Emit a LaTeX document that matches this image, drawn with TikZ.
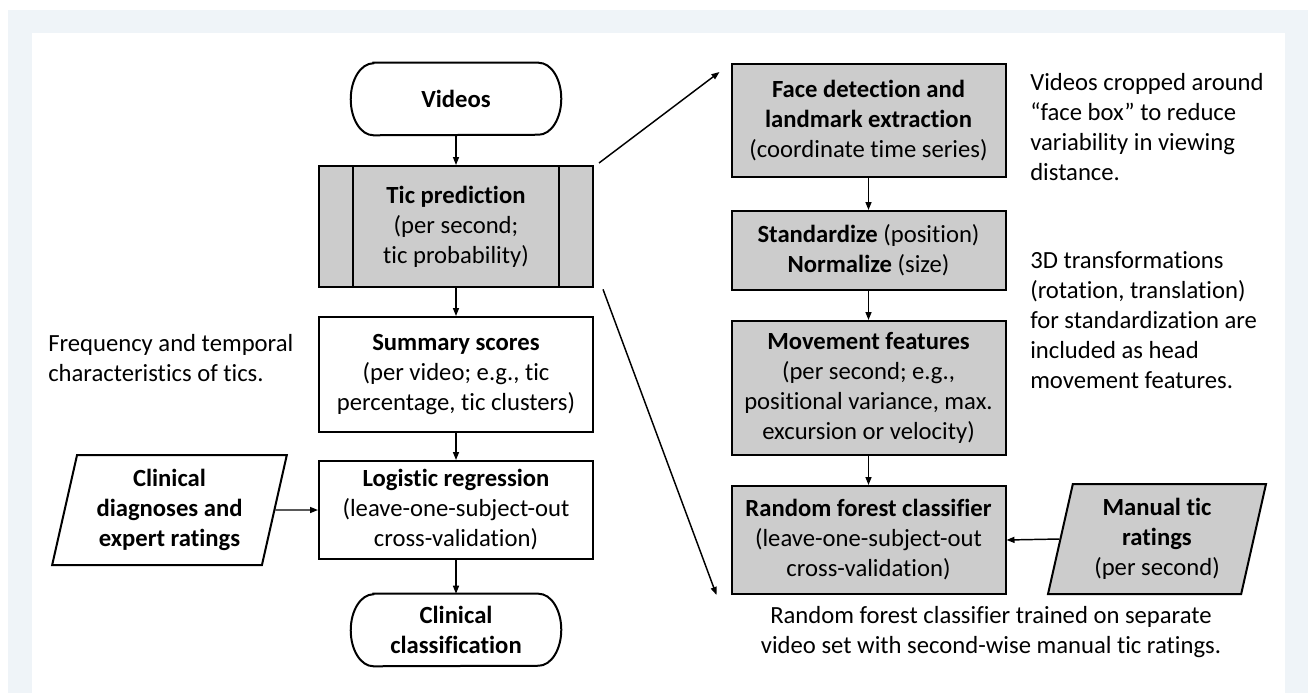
\documentclass[tikz,border=0pt]{standalone}
\usepackage{fontspec}
\setmainfont{Carlito}[Ligatures=NoCommon]
\usetikzlibrary{arrows.meta,calc,positioning,shapes.geometric}
\definecolor{framebg}{RGB}{239,244,248}
\definecolor{boxgray}{RGB}{204,204,204}

\tikzset{
  flowbox/.style={draw=black,line width=1.5pt,minimum width=205.5pt,align=center,inner sep=2pt},
  graybox/.style={flowbox,fill=boxgray},
  terminal/.style={align=center,inner sep=2pt,minimum width=157.5pt,minimum height=54pt},
  databox/.style={flowbox,trapezium,trapezium left angle=74,trapezium right angle=106,
    trapezium stretches body,minimum height=82.5pt},
  flowarrow/.style={-{Triangle[length=6pt,width=4.5pt]},line width=1.1pt},
  note/.style={align=left,inner sep=0pt}
}

\begin{document}
\begin{tikzpicture}[x=0.75pt,y=-0.75pt,font=\fontsize{18.5}{22.5}\selectfont]
  % cadre
  \useasboundingbox (0,0) rectangle (1312,693);
  \fill[framebg] (8,10) rectangle (1308,693);
  \fill[white] (32,33) rectangle (1285,693);
  % colonne gauche
  \node[terminal] (videos) at (456,99) {\textbf{Videos}};
  \node[graybox,minimum height=90.75pt] (tic) at (456,226.5)
    {\textbf{Tic prediction}\\(per second;\\tic probability)};
  \draw[line width=1.5pt] ([xshift=26pt]tic.north west) -- ([xshift=26pt]tic.south west);
  \draw[line width=1.5pt] ([xshift=-26pt]tic.north east) -- ([xshift=-26pt]tic.south east);
  \node[flowbox,minimum height=86.25pt] (summary) at (456,374.5)
    {\textbf{Summary scores}\\(per video; e.g., tic\\percentage, tic clusters)};
  \node[flowbox,minimum height=73.5pt] (logreg) at (456,510)
    {\textbf{Logistic regression}\\(leave-one-subject-out\\cross-validation)};
  \node[terminal] (clinclass) at (456,630) {\textbf{Clinical}\\\textbf{classification}};
  \node[databox,minimum width=176pt] (diagnoses) at (169.5,510)
    {\textbf{Clinical}\\\textbf{diagnoses and}\\\textbf{expert ratings}};
  % bords des terminaux
  \foreach \t in {videos,clinclass}
    \draw[line width=1.5pt] ([xshift=17pt]\t.north west) -- ([xshift=-17pt]\t.north east)
      arc[start angle=90,end angle=-90,x radius=17pt,y radius=27pt]
      -- ([xshift=17pt]\t.south west)
      arc[start angle=270,end angle=90,x radius=17pt,y radius=27pt] -- cycle;
  % colonne droite
  \node[graybox,minimum height=84.75pt] (face) at (868.5,120.5)
    {\textbf{Face detection and}\\\textbf{landmark extraction}\\(coordinate time series)};
  \node[graybox,minimum height=59.25pt] (stdz) at (868.5,250.5)
    {\textbf{Standardize} (position)\\\textbf{Normalize} (size)};
  \node[graybox,minimum height=100.5pt] (movement) at (868.5,388)
    {\textbf{Movement features}\\(per second; e.g.,\\positional variance, max.\\excursion or velocity)};
  \node[graybox,minimum height=81pt] (forest) at (868.5,540)
    {\textbf{Random forest classifier}\\(leave-one-subject-out\\cross-validation)};
  \node[databox,fill=boxgray,minimum width=163.5pt] (manual) at (1157,539)
    {\textbf{Manual tic}\\\textbf{ratings}\\(per second)};
  % commentaires
  \node[note,anchor=west] (facenote) at (1030,127.5)
    {Videos cropped around\\``face box'' to reduce\\variability in viewing\\distance.};
  \node[note,anchor=west] (stdznote) at (1030,320)
    {3D transformations\\(rotation, translation)\\for standardization are\\included as head\\movement features.};
  \node[note,anchor=west] (ticnote) at (48,358)
    {Frequency and temporal\\characteristics of tics.};
  \node[note,align=center] (forestnote) at (991,632)
    {Random forest classifier trained on separate\\video set with second-wise manual tic ratings.};
  % fleches
  \draw[flowarrow] (videos) -- (tic);
  \draw[flowarrow] (tic) -- (summary);
  \draw[flowarrow] (summary) -- (logreg);
  \draw[flowarrow] (logreg) -- (clinclass);
  \draw[flowarrow] (diagnoses.east) -- (logreg.west);
  \draw[flowarrow] (face) -- (stdz);
  \draw[flowarrow] (stdz) -- (movement);
  \draw[flowarrow] (movement) -- (forest);
  \draw[flowarrow] (manual.west) -- (forest.east);
  \draw[flowarrow] ([xshift=3.75pt,yshift=1.5pt]tic.north east) -- ([xshift=-8.25pt,yshift=-6.75pt]face.north west);
  \draw[flowarrow] ([xshift=6.75pt,yshift=-1pt]tic.south east) -- ([xshift=-10.5pt]forest.south west);
\end{tikzpicture}
\end{document}
